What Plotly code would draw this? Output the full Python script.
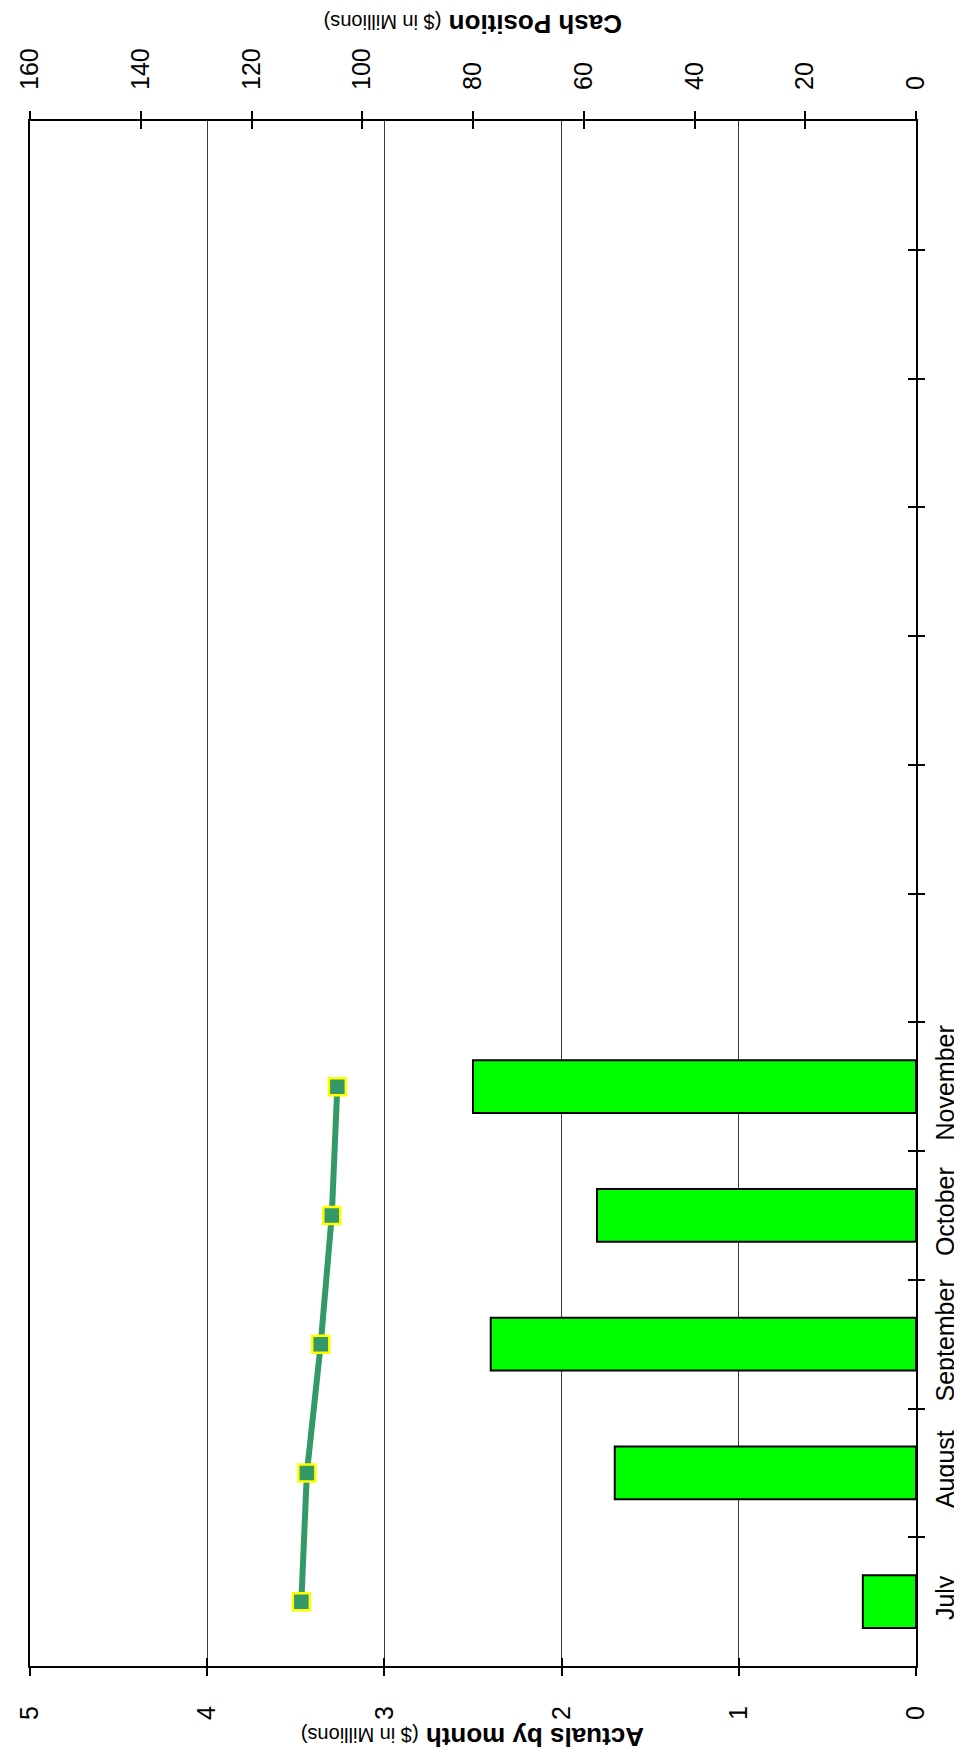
import plotly.graph_objects as go

# ---- data ----
months = ["July", "August", "September", "October", "November"]
actuals = [0.30, 1.70, 2.40, 1.80, 2.50]          # $ in millions (bottom axis)
cash_position = [111.0, 110.0, 107.5, 105.5, 104.5]  # $ in millions (top axis)
n_slots = 12  # July .. June (fiscal year), only first 5 reported
actual_ticks = [0, 1, 2, 3, 4, 5]

FONT = "Liberation Sans, Arial, sans-serif"
idx = list(range(len(months)))
boundaries = [i + 0.5 for i in range(n_slots - 1)]
yrange = [-0.5, n_slots - 0.5]

fig = go.Figure()

fig.add_trace(go.Bar(
    x=actuals, y=idx, orientation="h", width=0.41,
    marker=dict(color="#00FF00", line=dict(color="black", width=2)),
    xaxis="x", yaxis="y", hoverinfo="x+y", showlegend=False,
))

fig.add_trace(go.Scatter(
    x=cash_position, y=idx, mode="lines+markers",
    line=dict(color="#339966", width=6),
    marker=dict(symbol="square", size=17, color="#339966",
                line=dict(color="#FFFF00", width=2.5)),
    xaxis="x2", yaxis="y", showlegend=False,
))

# dummy traces so the tick-only overlay axes are drawn
fig.add_trace(go.Scatter(x=[], y=[], xaxis="x3", yaxis="y2", showlegend=False, hoverinfo="skip"))
fig.add_trace(go.Scatter(x=[], y=[], xaxis="x4", yaxis="y3", showlegend=False, hoverinfo="skip"))

tickfont = dict(family=FONT, size=25, color="black")

fig.update_layout(
    width=962, height=1749,
    margin=dict(l=22, r=54, t=113, b=91, autoexpand=False),
    plot_bgcolor="white", paper_bgcolor="white",
    showlegend=False,
    font=dict(family=FONT, color="black"),
    xaxis=dict(
        range=[5, 0], tickmode="array", tickvals=actual_ticks,
        ticks="outside", ticklen=8, tickwidth=1.5, tickcolor="black",
        showgrid=True, gridcolor="#3a3a3a", gridwidth=1,
        showline=True, linecolor="black", linewidth=2,
        zeroline=False, tickangle=-90, tickfont=tickfont,
        ticklabelstandoff=20, anchor="y", automargin=False,
    ),
    xaxis2=dict(
        range=[160, 0], tickmode="linear", tick0=0, dtick=20,
        overlaying="x", side="top", anchor="y",
        ticks="outside", ticklen=8, tickwidth=1.5, tickcolor="black",
        showgrid=False, showline=True, linecolor="black", linewidth=2,
        zeroline=False, tickangle=-90, tickfont=tickfont,
        ticklabelstandoff=16, automargin=False,
    ),
    xaxis3=dict(
        range=[5, 0], tickmode="array", tickvals=actual_ticks,
        overlaying="x", side="bottom", anchor="y",
        ticks="inside", ticklen=8, tickwidth=1.5, tickcolor="black",
        showticklabels=False, showgrid=False, showline=False, zeroline=False,
        automargin=False,
    ),
    xaxis4=dict(
        range=[160, 0], tickmode="linear", tick0=0, dtick=20,
        overlaying="x", side="top", anchor="y",
        ticks="inside", ticklen=8, tickwidth=1.5, tickcolor="black",
        showticklabels=False, showgrid=False, showline=False, zeroline=False,
        automargin=False,
    ),
    yaxis=dict(
        range=yrange, side="right", anchor="x",
        tickmode="array", tickvals=idx, ticktext=months,
        ticks="", showgrid=False, zeroline=False,
        showline=True, mirror=True, linecolor="black", linewidth=2,
        tickangle=-90, tickfont=tickfont, ticklabelstandoff=6,
        automargin=False,
    ),
    yaxis2=dict(
        range=yrange, side="right", overlaying="y", anchor="x",
        tickmode="array", tickvals=boundaries,
        ticks="outside", ticklen=8, tickwidth=1.5, tickcolor="black",
        showticklabels=False, showgrid=False, showline=False, zeroline=False,
        automargin=False,
    ),
    yaxis3=dict(
        range=yrange, side="right", overlaying="y", anchor="x",
        tickmode="array", tickvals=boundaries,
        ticks="inside", ticklen=8, tickwidth=1.5, tickcolor="black",
        showticklabels=False, showgrid=False, showline=False, zeroline=False,
        automargin=False,
    ),
)

fig.add_annotation(
    text="<b>Cash Position</b> <span style='font-size:20px'>($ in Millions)</span>",
    xref="paper", yref="paper", x=0.5, y=1.0628, xanchor="center", yanchor="middle",
    showarrow=False, textangle=180, font=dict(family=FONT, size=26, color="black"),
)
fig.add_annotation(
    text="<b>Actuals by month</b> <span style='font-size:20px'>($ in Millions)</span>",
    xref="paper", yref="paper", x=0.5, y=-0.0455, xanchor="center", yanchor="middle",
    showarrow=False, textangle=180, font=dict(family=FONT, size=26, color="black"),
)

fig.write_html("out.html")
